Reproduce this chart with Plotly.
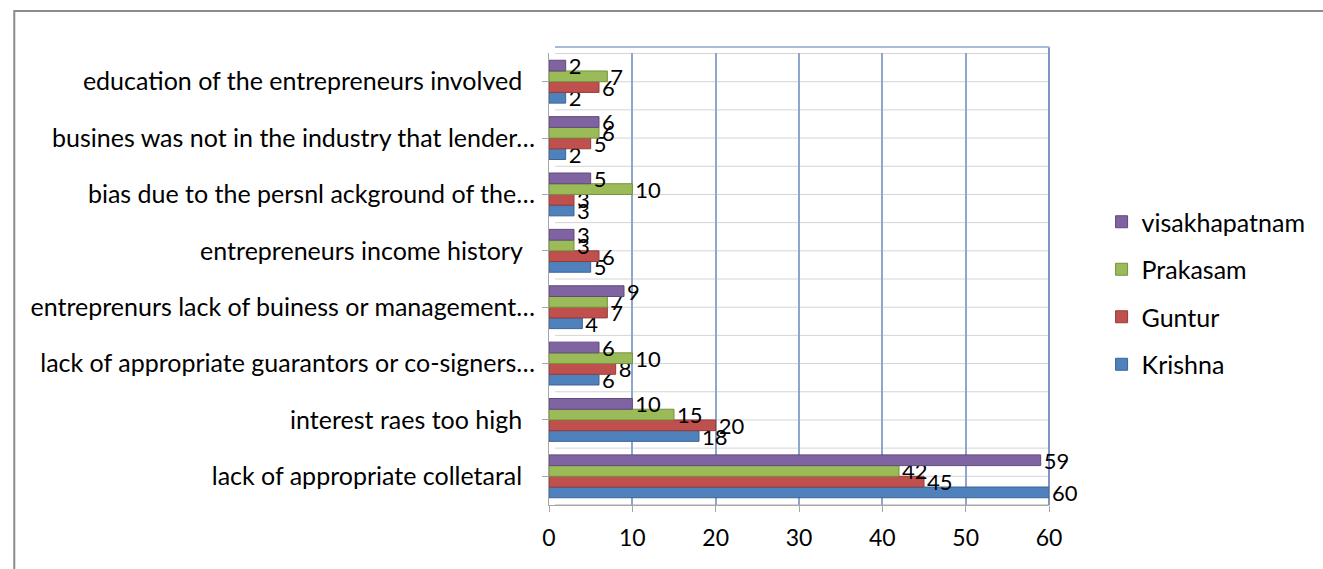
import plotly.graph_objects as go

categories = [
    "lack of appropriate colletaral\u00a0\u00a0",
    "interest raes too high\u00a0\u00a0",
    "lack of appropriate guarantors or co-signers…",
    "entreprenurs lack of buiness or management…",
    "entrepreneurs income history\u00a0\u00a0",
    "bias due to the persnl ackground of the…",
    "busines was not in the industry that lender…",
    "education of the entrepreneurs involved\u00a0\u00a0",
]
krishna = [60, 18, 6, 4, 5, 3, 2, 2]
guntur = [45, 20, 8, 7, 6, 3, 5, 6]
prakasam = [42, 15, 10, 7, 3, 10, 6, 7]
visakhapatnam = [59, 10, 6, 9, 3, 5, 6, 2]
x_ticks = [0, 10, 20, 30, 40, 50, 60]

series = [
    ("Krishna", krishna, "#4F81BD", "#3A6496", 4),
    ("Guntur", guntur, "#C0504D", "#943C3A", 3),
    ("Prakasam", prakasam, "#9BBB59", "#76913F", 2),
    ("visakhapatnam", visakhapatnam, "#8064A2", "#5F4A7A", 1),
]

FONT = "Lato, 'Open Sans', sans-serif"

fig = go.Figure()
for name, vals, col, edge, rank in series:
    fig.add_trace(go.Bar(
        name=name, y=categories, x=vals, orientation="h",
        marker=dict(color=col, line=dict(color=edge, width=1)),
        text=[str(v) for v in vals], textposition="outside",
        textfont=dict(family=FONT, size=22, color="black"),
        constraintext="none", cliponaxis=False,
        legendgroup=name, legendrank=rank,
    ))

L, R, T, B = 549, 1053, 53, 505
W, H = 1323, 569
pw, ph = R - L, B - T

def px2x(px):
    return (px - L) / pw

def py2y(py):
    return (B - py) / ph

shapes = []
n = len(categories)
for k in range(2 * n + 1):
    yv = -0.5 + k * 0.5
    shapes.append(dict(type="line", xref="paper", yref="y", x0=0.012, x1=1.0,
                       y0=yv, y1=yv, line=dict(color="#D4D4D4", width=1), layer="below"))
shapes.append(dict(type="line", xref="paper", yref="paper", x0=1.0, x1=1.0, y0=0, y1=1.013,
                   line=dict(color="#7F96C2", width=2), layer="below"))
shapes.append(dict(type="line", xref="paper", yref="paper", x0=0.012, x1=1.0, y0=1.013, y1=1.013,
                   line=dict(color="#A9BBDB", width=2), layer="below"))
shapes.append(dict(type="rect", xref="paper", yref="paper",
                   x0=px2x(10), x1=px2x(W + 20), y0=py2y(H + 20), y1=py2y(11),
                   line=dict(color="#8C8C8C", width=2)))

fig.update_layout(
    width=W, height=H,
    margin=dict(l=L, r=W - R, t=T, b=H - B, pad=0),
    paper_bgcolor="white", plot_bgcolor="white",
    barmode="group", bargap=0.24, bargroupgap=0.0,
    font=dict(family=FONT, size=20, color="black"),
    showlegend=True,
    legend=dict(x=px2x(1106), y=py2y(199), xanchor="left", yanchor="top",
                traceorder="grouped", tracegroupgap=12,
                font=dict(family=FONT, size=25, color="black"),
                bgcolor="rgba(0,0,0,0)"),
    xaxis=dict(range=[0, 60], tickvals=x_ticks, showgrid=True, gridcolor="#8FA5CC",
               gridwidth=2, zeroline=False, showline=True, linecolor="#A6A6A6",
               linewidth=1, ticks="outside", ticklen=6, tickcolor="#A6A6A6",
               ticklabelstandoff=6, tickfont=dict(family=FONT, size=23)),
    yaxis=dict(type="category", categoryorder="array", categoryarray=categories,
               showgrid=False, showline=True, linecolor="#A6A6A6", linewidth=1,
               ticks="outside", ticklen=6, tickcolor="#A6A6A6",
               tickfont=dict(family=FONT, size=25), ticklabelstandoff=2),
    shapes=shapes,
)

fig.write_html("out.html")
